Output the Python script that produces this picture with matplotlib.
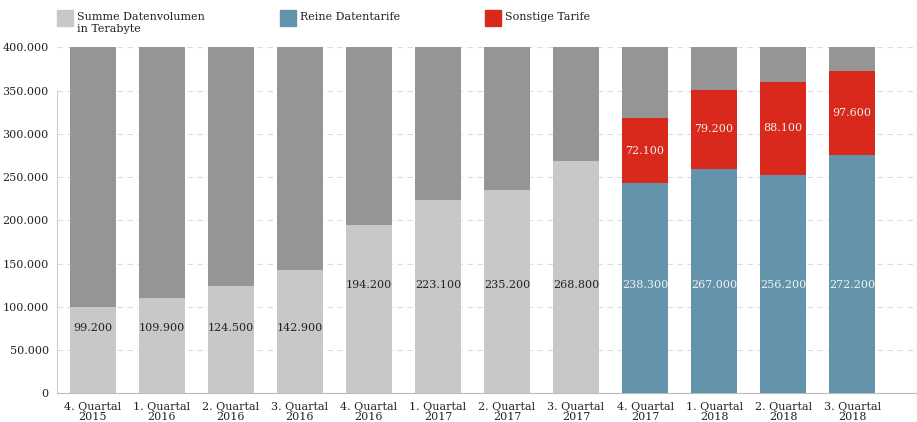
import numpy as np
import matplotlib.pyplot as plt
from matplotlib.patches import Rectangle

plt.rcParams['font.family'] = ['DejaVu Serif Condensed', 'DejaVu Serif']

# Data (Terabyte)
quarters = ["4. Quartal\n2015", "1. Quartal\n2016", "2. Quartal\n2016", "3. Quartal\n2016",
            "4. Quartal\n2016", "1. Quartal\n2017", "2. Quartal\n2017", "3. Quartal\n2017",
            "4. Quartal\n2017", "1. Quartal\n2018", "2. Quartal\n2018", "3. Quartal\n2018"]
summe = [99200, 109900, 124500, 142900, 194200, 223100, 235200, 268800]
# bar heights as drawn in the source chart (last four quarters)
reine_hoehe = [242800, 259300, 252400, 275500]
sonstige_hoehe = [75500, 91300, 107500, 97100]
# printed values
reine_text = [238300, 267000, 256200, 272200]
sonstige_text = [72100, 79200, 88100, 97600]
y_max = 400000

c_back = "#959595"
c_summe = "#c8c8c8"
c_reine = "#6394ab"
c_sonst = "#d9291c"


def fmt(v):
    return f"{v:,}".replace(",", ".")


fig = plt.figure(figsize=(9.17, 4.22), dpi=100)
ax = fig.add_axes([0.0622, 0.068, 0.9378, 0.82])

x = np.arange(len(quarters))
w = 0.66
ax.bar(x, [y_max] * len(x), width=w, color=c_back, zorder=2)

n = len(summe)
ax.bar(x[:n], summe, width=w, color=c_summe, zorder=3)
for i, v in enumerate(summe):
    ly = 75000 if v < 150000 else 125000
    ax.text(x[i], ly, fmt(v), ha="center", va="center", fontsize=8, color="#222222", zorder=5)

xb = x[n:]
ax.bar(xb, reine_hoehe, width=w, color=c_reine, zorder=3)
ax.bar(xb, sonstige_hoehe, bottom=reine_hoehe, width=w, color=c_sonst, zorder=3)
for i in range(len(xb)):
    ax.text(xb[i], 125000, fmt(reine_text[i]), ha="center", va="center",
            fontsize=8, color="#f2f2f2", zorder=5)
    ax.text(xb[i], reine_hoehe[i] + sonstige_hoehe[i] / 2, fmt(sonstige_text[i]),
            ha="center", va="center", fontsize=8, color="#f2f2f2", zorder=5)

ax.set_xlim(-0.52, len(x) - 0.06)
ax.set_ylim(0, y_max)
yt = np.arange(0, y_max + 1, 50000)
ax.set_yticks(yt)
ax.set_yticklabels([fmt(int(v)) for v in yt], fontsize=8, color="#222222")
ax.set_xticks(x)
ax.set_xticklabels(quarters, fontsize=8, color="#222222", linespacing=1.1)
ax.tick_params(axis="both", length=0)
ax.tick_params(axis="y", pad=6)
ax.tick_params(axis="x", pad=6)

ax.grid(axis="y", color="#dddddd", linestyle=(0, (5, 4)), linewidth=0.8, zorder=1)
for s in ["top", "right"]:
    ax.spines[s].set_visible(False)
ax.spines["left"].set_color("#cccccc")
ax.spines["left"].set_bounds(0, 350000)
ax.spines["bottom"].set_color("#bbbbbb")

# legend
legend = [("Summe Datenvolumen\nin Terabyte", c_summe, 57),
          ("Reine Datentarife", c_reine, 280),
          ("Sonstige Tarife", c_sonst, 485)]
W, H = 917, 422
for label, col, px in legend:
    fig.patches.append(Rectangle((px / W, 1 - 26 / H), 16 / W, 16 / H,
                                 transform=fig.transFigure, color=col))
    fig.text((px + 20) / W, 1 - 12 / H, label, ha="left", va="top",
             fontsize=8, color="#222222", linespacing=1.2)

fig.savefig("out.png", dpi=100)
